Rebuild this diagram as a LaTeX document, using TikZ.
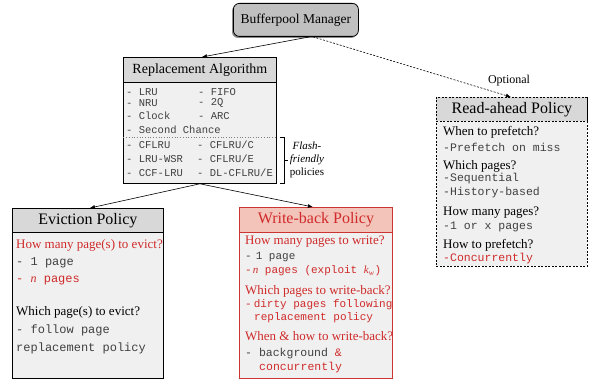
\documentclass[tikz,border=0pt]{standalone}
\usepackage{fontspec}
\setmainfont{Liberation Serif}
\setmonofont{Liberation Mono}
\usetikzlibrary{arrows.meta}

\definecolor{bodyfill}{HTML}{F0F0F0}
\definecolor{headfill}{HTML}{D8D8D8}
\definecolor{buffill}{HTML}{C0C0C0}
\definecolor{wbhead}{HTML}{F2C4BA}
\definecolor{wbborder}{HTML}{CC3333}
\definecolor{redtext}{HTML}{D02A2A}
\definecolor{monotext}{HTML}{404040}

\begin{document}
\begin{tikzpicture}[x=1pt,y=-1pt,
  box/.style={draw, fill=bodyfill, line width=0.8pt, anchor=north west, inner sep=0pt},
  headbox/.style={draw, fill=headfill, line width=0.8pt, anchor=north west, inner sep=0pt,
    font=\fontsize{16}{18}\selectfont},
  q/.style={anchor=west, inner sep=0pt, font=\fontsize{13}{15}\selectfont},
  code/.style={anchor=west, inner sep=0pt, text=monotext, font=\ttfamily\fontsize{11.5}{13}\selectfont},
  rcode/.style={anchor=west, inner sep=0pt, text=monotext, font=\ttfamily\fontsize{10.5}{13}\selectfont},
  red/.style={text=redtext},
  dashbox/.style={dash pattern=on 2pt off 1.5pt},
  arr/.style={-{Latex[length=5pt,width=4pt]}, line width=0.6pt},
]
\useasboundingbox (0,0) rectangle (600,379);

% ---------- Bufferpool manager ----------
\fill[black!45, rounded corners=6pt] (232,5) rectangle (357,38);
\node[draw, fill=buffill, rounded corners=6pt, line width=0.8pt, anchor=north west,
  minimum width=125pt, minimum height=33pt, inner sep=0pt,
  font=\fontsize{13.5}{16}\selectfont] (buf) at (233,3) {Bufferpool Manager};

% ---------- Replacement algorithm ----------
\node[box, minimum width=153pt, minimum height=126pt] (rep) at (123,57) {};
\node[headbox, minimum width=153pt, minimum height=25pt, font=\fontsize{14}{16}\selectfont]
  (reph) at (123,57) {Replacement Algorithm};
\node[rcode] (r1a) at (126,92)  {- LRU};
\node[rcode] (r1b) at (198,92)  {- FIFO};
\node[rcode] (r2a) at (126,103) {- NRU};
\node[rcode] (r2b) at (198,103) {- 2Q};
\node[rcode] (r3a) at (126,116) {- Clock};
\node[rcode] (r3b) at (198,116) {- ARC};
\node[rcode] (r4)  at (126,130) {- Second Chance};
\draw[gray, dotted, line width=0.7pt] (123.4,137) -- (275.6,137);
\node[rcode] (r5a) at (126,145) {- CFLRU};
\node[rcode] (r5b) at (197,145) {- CFLRU/C};
\node[rcode] (r6a) at (126,159) {- LRU-WSR};
\node[rcode] (r6b) at (197,159) {- CFLRU/E};
\node[rcode] (r7a) at (126,173) {- CCF-LRU};
\node[rcode] (r7b) at (197,173) {- DL-CFLRU/E};

% bracket marking the flash-friendly group
\draw[line width=0.7pt] (280,137) -- (284,137) -- (284,183) -- (280,183);
\draw[line width=0.7pt] (284,160) -- (288,160);
\node[align=center, inner sep=0pt, font=\fontsize{11}{13}\selectfont] (flash) at (307,160)
  {\textit{Flash-}\\\textit{friendly}\\policies};

% ---------- Eviction policy ----------
\node[box, minimum width=151pt, minimum height=170pt] (evict) at (12,208) {};
\node[headbox, minimum width=151pt, minimum height=24pt] (evicth) at (12,208) {Eviction Policy};
\node[q, red] (e1) at (16,245) {How many page(s) to evict?};
\node[code, font=\ttfamily\fontsize{12}{14}\selectfont] (e2) at (16,263) {- 1 page};
\node[code, red, font=\ttfamily\fontsize{12}{14}\selectfont] (e3) at (16,281) {- \textrm{\textit{n}} pages};
\node[q] (e4) at (16,312) {Which page(s) to evict?};
\node[code, font=\ttfamily\fontsize{12}{14}\selectfont] (e5) at (16,330) {- follow page};
\node[code, font=\ttfamily\fontsize{12}{14}\selectfont] (e6) at (16,348) {replacement policy};

% ---------- Write-back policy ----------
\node[box, draw=wbborder, minimum width=153pt, minimum height=171pt] (wb) at (239,207) {};
\node[headbox, draw=wbborder, fill=wbhead, text=redtext, minimum width=153pt, minimum height=25pt]
  (wbh) at (239,207) {Write-back Policy};
\node[q, red] (w1) at (245,242) {How many pages to write?};
\node[code, font=\ttfamily\fontsize{11}{13}\selectfont] (w2) at (245,257) {-\hspace{4pt}1 page};
\node[code, red, font=\ttfamily\fontsize{11}{13}\selectfont] (w3) at (245,271)
  {-\hspace{1pt}\textrm{\textit{n}} pages (exploit \textrm{\textit{k}\textsubscript{\textit{w}}})};
\node[q, red] (w4) at (245,291) {Which pages to write-back?};
\node[code, red, font=\ttfamily\fontsize{11}{13}\selectfont] (w5) at (245,305) {-\hspace{2pt}dirty pages following};
\node[code, red, font=\ttfamily\fontsize{11}{13}\selectfont] (w6) at (254,318) {replacement policy};
\node[q, red] (w7) at (245,336) {When \& how to write-back?};
\node[code, font=\ttfamily\fontsize{11.5}{13}\selectfont] (w8) at (245,354) {- background \textcolor{redtext}{\&}};
\node[code, red, font=\ttfamily\fontsize{11.5}{13}\selectfont] (w9) at (259,368) {concurrently};

% ---------- Read-ahead policy (optional) ----------
\node[box, dashbox, minimum width=151pt, minimum height=169pt] (ra) at (436,97) {};
\node[headbox, dashbox, minimum width=151pt, minimum height=24pt] (rah) at (436,97) {Read-ahead Policy};
\node[q] (a1) at (443,132) {When to prefetch?};
\node[code] (a2) at (443,147) {-Prefetch on miss};
\node[q] (a3) at (443,166) {Which pages?};
\node[code] (a4) at (443,179) {-Sequential};
\node[code] (a5) at (443,193) {-History-based};
\node[q] (a6) at (443,213) {How many pages?};
\node[code] (a7) at (443,227) {-1 or x pages};
\node[q] (a8) at (443,245) {How to prefetch?};
\node[code, red] (a9) at (443,259) {-Concurrently};

% ---------- connectors ----------
\draw[arr] ([xshift=14pt]buf.south) -- ([xshift=2pt]rep.north);
\draw[arr, dashbox] ([xshift=17pt]buf.south) -- ([xshift=-1pt]ra.north);
\node[inner sep=0pt, font=\fontsize{12}{14}\selectfont] (opt) at (509,81) {Optional};
\draw[arr] (rep.south) -- ([xshift=2pt]evict.north);
\draw[arr] (rep.south) -- ([xshift=-3pt]wb.north);
\end{tikzpicture}
\end{document}
